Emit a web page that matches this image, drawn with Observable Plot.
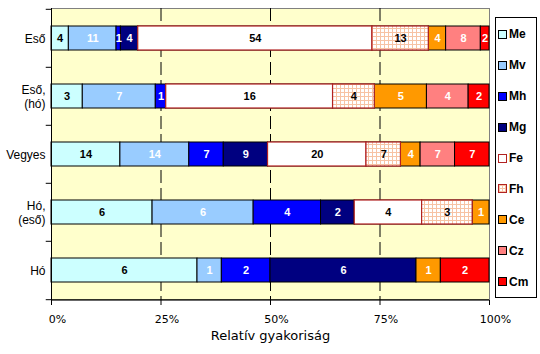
<!DOCTYPE html>
<html><head><meta charset="utf-8">
<script src="https://cdn.jsdelivr.net/npm/d3@7"></script>
<script src="https://cdn.jsdelivr.net/npm/@observablehq/plot@0.6"></script>
<style>
body{margin:0;background:#fff}
#wrap{position:relative;width:540px;height:354px;overflow:hidden}
#legend{position:absolute;left:495px;top:17px;width:42px;height:281px;border:1px solid #000;box-sizing:border-box;background:#fff;padding-top:1px}
.item{height:30.9px;display:flex;align-items:center;font:bold 12px "Liberation Sans",Arial,sans-serif;color:#000}
.sw{width:9px;height:9px;box-sizing:border-box;border:1px solid #000;margin-left:2px;margin-right:2px;flex:none}
</style></head><body><div id="wrap"></div>
<script>
// ---- data ----
const categories = ["Eső", "Eső,\n(hó)", "Vegyes", "Hó,\n(eső)", "Hó"];
const seriesNames = ["Me", "Mv", "Mh", "Mg", "Fe", "Fh", "Ce", "Cz", "Cm"];
const esoValues    = [4, 11, 1, 4, 54, 13, 4, 8, 2];
const esoHoValues  = [3, 7, 1, 0, 16, 4, 5, 4, 2];
const vegyesValues = [14, 14, 7, 9, 20, 7, 4, 7, 7];
const hoEsoValues  = [6, 6, 4, 2, 4, 3, 1, 0, 0];
const hoValues     = [6, 1, 2, 6, 0, 0, 1, 0, 2];
const tickValues = [0, 0.25, 0.5, 0.75, 1];
const tickLabels = ["0%", "25%", "50%", "75%", "100%"];
const axisTitle = "Relatív gyakoriság";

// ---- styles ----
const fillColors = ["#CCFFFF", "#99CCFF", "#0000FF", "#000080", "#FFFFFF", "url(#fhPattern)", "#FF9900", "#FF8080", "#FF0000"];
const darkLabelSeries = ["Me", "Fe", "Fh"];
const redStrokeSeries = ["Fe", "Fh"];
const redStroke = "#B22222";

const valuesByCategory = [esoValues, esoHoValues, vegyesValues, hoEsoValues, hoValues];
const rows = [];
categories.forEach((c, i) => valuesByCategory[i].forEach((v, j) => {
  if (v > 0) rows.push({category: c, series: seriesNames[j], value: v});
}));

const stackOpts = {x: "value", y: "category", order: null, offset: "normalize"};
const halfStep = 292 / 5 / 2;
const sansFont = "Liberation Sans, Arial, sans-serif";
const tickFont = "DejaVu Sans, Verdana, sans-serif";

const chart = Plot.plot({
  width: 540, height: 354,
  marginLeft: 51, marginRight: 51, marginTop: 8, marginBottom: 54,
  x: {domain: [0, 1], axis: null},
  y: {domain: categories, paddingInner: 0.59, paddingOuter: 0.295, axis: null},
  color: {domain: seriesNames, range: fillColors},
  style: {background: "transparent"},
  marks: [
    Plot.frame({fill: "#FFFFCC", stroke: "#808080"}),
    Plot.ruleX([0.25, 0.5, 0.75], {stroke: "#000", strokeDasharray: "13,5"}),
    Plot.barX(rows, Plot.stackX({...stackOpts, fill: "series", stroke: "#000", strokeWidth: 1})),
    Plot.barX(rows, Plot.filter(d => redStrokeSeries.includes(d.series),
      Plot.stackX({...stackOpts, fill: "series", stroke: redStroke, strokeWidth: 1.2}))),
    Plot.text(rows, Plot.filter(d => darkLabelSeries.includes(d.series),
      Plot.stackX({...stackOpts, text: "value", fill: "#000", fontWeight: "bold", fontSize: 11, fontFamily: sansFont}))),
    Plot.text(rows, Plot.filter(d => !darkLabelSeries.includes(d.series),
      Plot.stackX({...stackOpts, text: "value", fill: "#fff", fontWeight: "bold", fontSize: 11, fontFamily: sansFont}))),
    Plot.ruleX([0], {stroke: "#000"}),
    Plot.ruleY(categories, {y: d => d, x1: -0.012, x2: 0, dy: -halfStep, stroke: "#000"}),
    Plot.ruleY([categories[categories.length - 1]], {y: d => d, x1: -0.012, x2: 1, dy: halfStep, stroke: "#000"}),
    Plot.axisY({tickSize: 0, tickPadding: 6, fontSize: 12, fontFamily: sansFont, lineHeight: 1.15, label: null, fill: "#000"}),
    Plot.axisX({ticks: tickValues, tickFormat: () => "", tickSize: 5, label: null, stroke: "#000"}),
    Plot.axisX({ticks: tickValues, tickFormat: (d, i) => tickLabels[i], tickSize: 0, tickPadding: 15, dx: 6, label: null, fontSize: 11, fontFamily: tickFont, fill: "#000"}),
    Plot.text([axisTitle], {text: d => d, frameAnchor: "bottom", dy: 39, fontSize: 13, fontFamily: tickFont, fill: "#000"})
  ]
});

const defs = d3.select(chart).insert("defs", ":first-child");
const pat = defs.append("pattern").attr("id", "fhPattern").attr("width", 4).attr("height", 4).attr("patternUnits", "userSpaceOnUse");
pat.append("rect").attr("width", 4).attr("height", 4).attr("fill", "#F7C3A4");
pat.append("rect").attr("x", 1).attr("y", 1).attr("width", 3).attr("height", 3).attr("fill", "#FFFFFF");

const wrap = document.getElementById("wrap");
wrap.appendChild(chart);

// legend
const legend = document.createElement("div");
legend.id = "legend";
seriesNames.forEach((s, i) => {
  const item = document.createElement("div");
  item.className = "item";
  const sw = document.createElement("span");
  sw.className = "sw";
  if (s === "Fh") {
    sw.style.background = "#fff";
    sw.style.backgroundImage = "linear-gradient(#F7C3A4 1px, transparent 1px), linear-gradient(90deg, #F7C3A4 1px, transparent 1px)";
    sw.style.backgroundSize = "3px 3px";
  } else {
    sw.style.background = fillColors[i];
  }
  if (redStrokeSeries.includes(s)) sw.style.borderColor = redStroke;
  const lab = document.createElement("span");
  lab.textContent = s;
  item.appendChild(sw);
  item.appendChild(lab);
  legend.appendChild(item);
});
wrap.appendChild(legend);
</script>
</body></html>
